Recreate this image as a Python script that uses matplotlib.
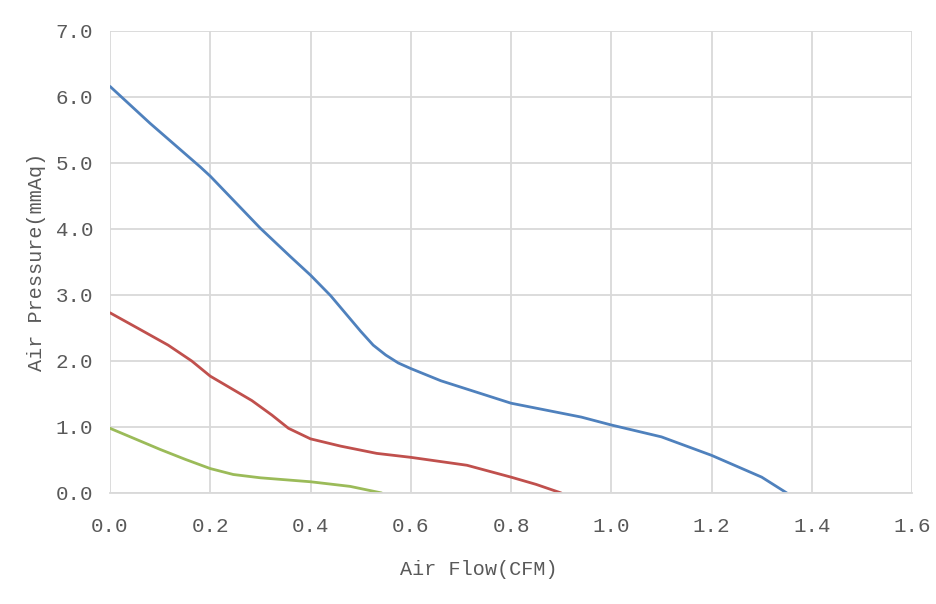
import numpy as np
import matplotlib
matplotlib.use('Agg')
import matplotlib.pyplot as plt

# curve data (CFM, mmAq)
blue_x = [0.0, 0.08, 0.18, 0.2, 0.3, 0.36, 0.4, 0.44, 0.47, 0.5, 0.525, 0.55, 0.575, 0.6, 0.66,
          0.8, 0.94, 1.0, 1.1, 1.2, 1.3, 1.35]
blue_y = [6.16, 5.60, 4.94, 4.80, 4.01, 3.58, 3.30, 2.99, 2.72, 2.45, 2.24, 2.09, 1.97, 1.885, 1.70,
          1.36, 1.15, 1.03, 0.85, 0.57, 0.24, 0.0]

red_x = [0.0, 0.057, 0.116, 0.163, 0.2, 0.283, 0.323, 0.356, 0.4, 0.46, 0.532, 0.6, 0.712,
         0.8, 0.85, 0.9]
red_y = [2.73, 2.49, 2.24, 2.0, 1.77, 1.40, 1.18, 0.98, 0.82, 0.71, 0.60, 0.54, 0.42,
         0.24, 0.13, 0.0]

green_x = [0.0, 0.1, 0.15, 0.2, 0.246, 0.3, 0.4, 0.479, 0.542]
green_y = [0.98, 0.66, 0.51, 0.37, 0.28, 0.23, 0.17, 0.10, 0.0]

x_ticks = np.arange(0, 1.61, 0.2)
y_ticks = np.arange(0, 7.01, 1.0)

plt.rcParams['font.family'] = ['Liberation Mono', 'DejaVu Sans Mono']
txt = '#595959'
grid = '#D9D9D9'

fig = plt.figure(figsize=(9.36, 6.04), dpi=100)
ax = fig.add_axes([0.1175, 0.1838, 0.857, 0.765])

for xs, ys, c in [(blue_x, blue_y, '#4F81BD'),
                  (red_x, red_y, '#C0504D'),
                  (green_x, green_y, '#9BBB59')]:
    ax.plot(xs, ys, color=c, lw=2.0, solid_joinstyle='round', solid_capstyle='round')

ax.set_xlim(0, 1.6)
ax.set_ylim(0, 7.0)
ax.set_xticks(x_ticks)
ax.set_yticks(y_ticks)
ax.set_xticklabels(['%.1f' % v for v in x_ticks])
ax.set_yticklabels(['%.1f' % v for v in y_ticks])
ax.tick_params(length=0, labelsize=15, colors=txt)
ax.tick_params(axis='y', pad=12)
ax.tick_params(axis='x', pad=17)

ax.grid(True, color=grid, lw=1.3)
ax.set_axisbelow(True)
for s in ['top', 'right', 'left']:
    ax.spines[s].set_visible(False)
ax.spines['bottom'].set_color(grid)
ax.spines['bottom'].set_linewidth(1.3)

ax.set_xlabel('Air Flow(CFM)', fontsize=14.5, color=txt, va='center', ha='center')
ax.xaxis.set_label_coords(0.46, -0.165)
ax.set_ylabel('Air Pressure(mmAq)', fontsize=14.5, color=txt, va='center', ha='center')
ax.yaxis.set_label_coords(-0.092, 0.5)

fig.savefig('out.png', dpi=100, facecolor='white')
